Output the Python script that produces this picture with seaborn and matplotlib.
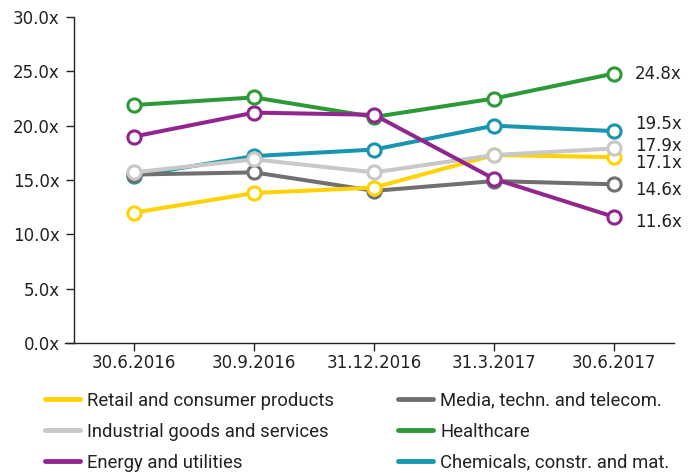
import numpy as np
import pandas as pd
import matplotlib
matplotlib.use("Agg")
import matplotlib.pyplot as plt
import seaborn as sns
from matplotlib.lines import Line2D

# Dữ liệu
dates = ["30.6.2016", "30.9.2016", "31.12.2016", "31.3.2017", "30.6.2017"]
retail = [12.0, 13.8, 14.3, 17.3, 17.1]
media = [15.5, 15.7, 14.0, 14.9, 14.6]
industrial = [15.7, 16.9, 15.7, 17.3, 17.9]
healthcare = [21.9, 22.6, 20.8, 22.5, 24.8]
energy = [19.0, 21.2, 21.0, 15.1, 11.6]
chemicals = [15.4, 17.2, 17.8, 20.0, 19.5]

names = ["Retail and consumer products", "Media, techn. and telecom.",
         "Industrial goods and services", "Healthcare",
         "Energy and utilities", "Chemicals, constr. and mat."]
series = [retail, media, industrial, healthcare, energy, chemicals]
colors = ["#FFD200", "#707070", "#C8C8C8", "#2E9A37", "#91268F", "#1896B0"]
palette = dict(zip(names, colors))

# thứ tự vẽ (dưới -> trên)
draw_order = ["Chemicals, constr. and mat.", "Media, techn. and telecom.",
              "Retail and consumer products", "Industrial goods and services",
              "Healthcare", "Energy and utilities"]

rows = []
for name, vals in zip(names, series):
    for i, v in enumerate(vals):
        rows.append({"idx": i, "value": v, "sector": name})
df = pd.DataFrame(rows)

sns.set_style("white")
plt.rcParams["font.family"] = ["DejaVu Sans"]

fig = plt.figure(figsize=(7, 4.73), dpi=100)
ax = fig.add_axes([0.106, 0.275, 0.857, 0.689])

sns.lineplot(data=df, x="idx", y="value", hue="sector", hue_order=draw_order,
             palette=palette, marker="o", markersize=9.5, markeredgewidth=2.2,
             markerfacecolor="white", linewidth=2.9, legend=False, ax=ax)
# viền marker cùng màu với đường
for line in ax.lines:
    line.set_markeredgecolor(line.get_color())

ax.set_xlim(-0.5, 4.5)
ax.set_ylim(0, 30)
ax.set_xticks(range(len(dates)))
ax.set_xticklabels(dates)
ax.set_yticks(np.arange(0, 30.1, 5))
ax.set_yticklabels([f"{t:.1f}x" for t in np.arange(0, 30.1, 5)])
ax.set_xlabel("")
ax.set_ylabel("")
ax.tick_params(axis="both", labelsize=12, colors="#222222", length=5.5,
               width=1, direction="out", left=True, bottom=True, pad=2.5)
ax.tick_params(axis="y", pad=5)
for s in ["top", "right"]:
    ax.spines[s].set_visible(False)
for s in ["left", "bottom"]:
    ax.spines[s].set_color("#222222")
    ax.spines[s].set_linewidth(1)
ax.spines["bottom"].set_bounds(-0.575, 4.5)

# nhãn giá trị cuối
nudges = {"Healthcare": 0, "Chemicals, constr. and mat.": 5,
          "Industrial goods and services": 2, "Retail and consumer products": -4.3,
          "Media, techn. and telecom.": -4.3, "Energy and utilities": -3.6}
for name, vals in zip(names, series):
    ax.annotate(f"{vals[-1]:.1f}x", xy=(4, vals[-1]), xytext=(15, nudges[name]),
                textcoords="offset points", va="center", ha="left",
                fontsize=12, color="#222222", annotation_clip=False)

# chú thích: hai cột
leg_font = {"family": ["Roboto", "DejaVu Sans"], "size": 13.3}
for col, x0 in enumerate([0.064, 0.569]):
    labs = names[col::2]
    handles = [Line2D([], [], color=palette[n], linewidth=3.5) for n in labs]
    fig.legend(handles, labs, loc="upper left", bbox_to_anchor=(x0, 0.172),
               frameon=False, prop=leg_font, handlelength=1.9,
               handletextpad=0.37, labelspacing=0.7, borderpad=0,
               borderaxespad=0, labelcolor="#222222")

plt.savefig("out.png", dpi=100)
